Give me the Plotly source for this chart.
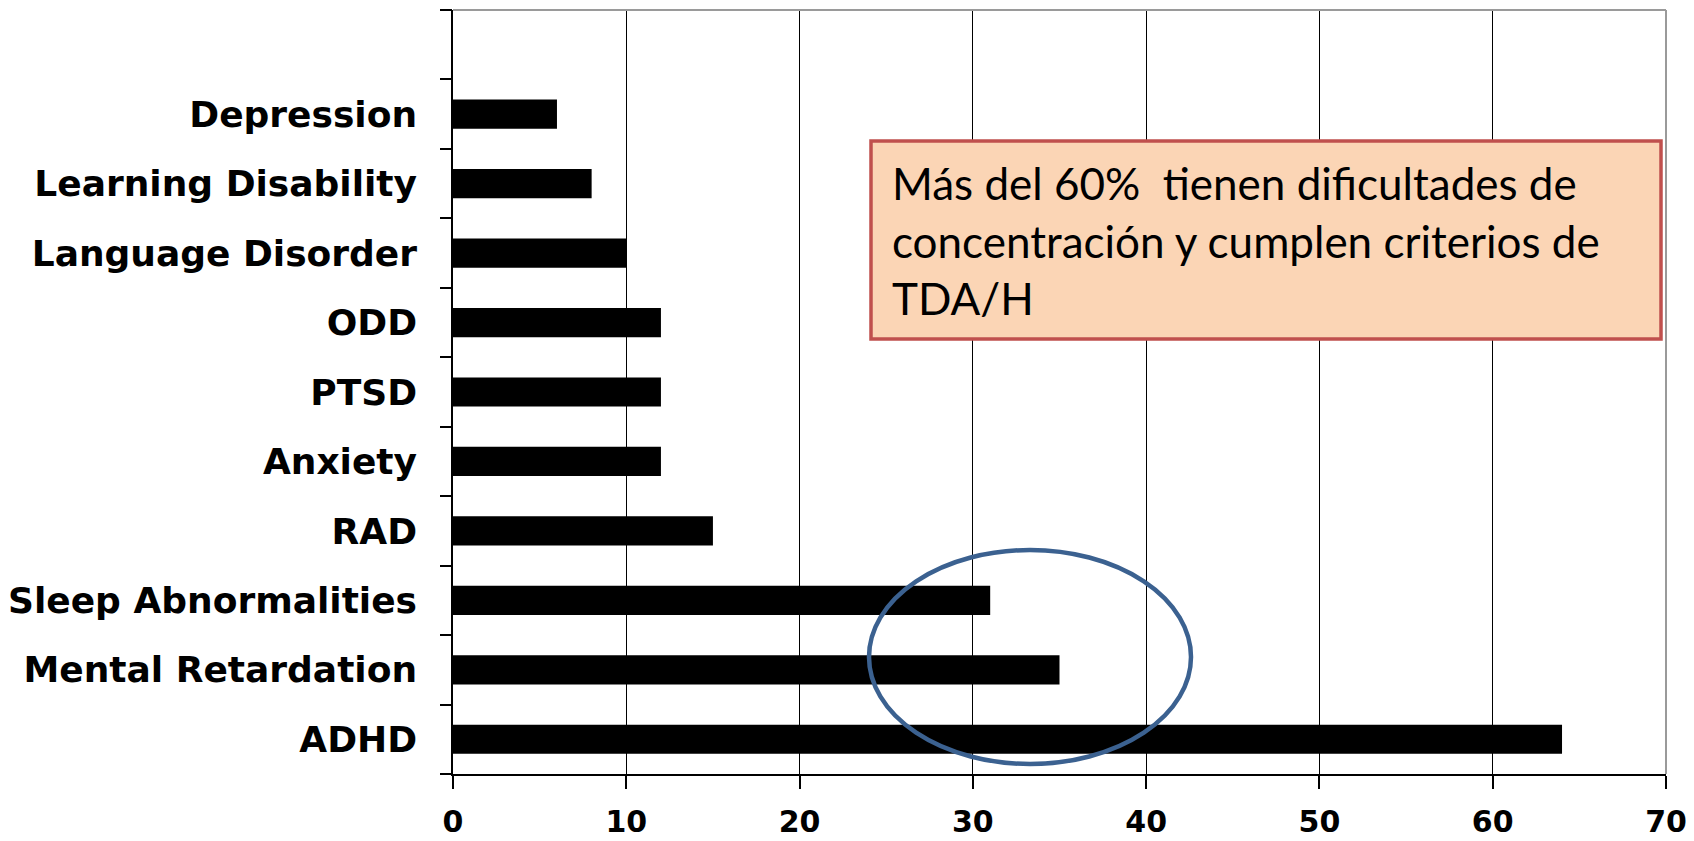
import plotly.graph_objects as go

categories = ["ADHD", "Mental Retardation", "Sleep Abnormalities", "RAD", "Anxiety",
              "PTSD", "ODD", "Language Disorder", "Learning Disability", "Depression"]
values = [64, 35, 31, 15, 12, 12, 12, 10, 8, 6]
x_ticks = [0, 10, 20, 30, 40, 50, 60, 70]
note_lines = ["Más del 60%  tienen dificultades de",
              "concentración y cumplen criterios de",
              "TDA/H"]

positions = list(range(len(categories)))
n_slots = len(categories) + 1  # one empty slot on top

fig = go.Figure()
fig.add_trace(go.Bar(
    x=values, y=positions, orientation="h", width=0.42,
    marker=dict(color="black", line=dict(width=0)),
    showlegend=False, hoverinfo="x+text", text=categories, textposition="none",
))
# invisible trace to activate boundary-tick axis
fig.add_trace(go.Scatter(x=[None], y=[None], yaxis="y2", showlegend=False))

OFF = 8  # page body margin
W, H = 1694 - OFF, 841 - OFF
L, T = 453 - OFF, 10 - OFF
pw, ph = 1213, 764
R, B = W - L - pw, H - T - ph

def px(xp):  # screenshot pixel -> paper
    return (xp - OFF - L) / pw

def py(yp):
    return (OFF + T + ph - yp) / ph

fig.update_layout(
    width=W, height=H,
    margin=dict(l=L, r=R, t=T, b=B, pad=0, autoexpand=False),
    paper_bgcolor="white", plot_bgcolor="white",
    xaxis=dict(
        range=[0, 70], tickvals=x_ticks, ticks="outside", ticklen=13, tickwidth=1.5,
        tickcolor="black", showgrid=True, gridcolor="black", gridwidth=1.3,
        showline=True, linecolor="black", linewidth=1.5, zeroline=False,
        tickfont=dict(family="DejaVu Sans", size=30, color="black", weight="bold"),
        ticklabelstandoff=7, automargin=False,
    ),
    yaxis=dict(
        range=[-0.5, n_slots - 0.5], tickvals=positions, ticktext=categories,
        ticks="", showgrid=False, zeroline=False, showline=True,
        linecolor="black", linewidth=1.5, automargin=False,
        tickfont=dict(family="DejaVu Sans", size=36, color="black", weight="bold"),
        ticklabelstandoff=27,
    ),
    yaxis2=dict(
        range=[-0.5, n_slots - 0.5], overlaying="y", side="left", anchor="x",
        tickvals=[i - 0.5 for i in range(n_slots + 1)], ticks="outside", ticklen=12,
        tickwidth=1.5, tickcolor="black", showticklabels=False, showgrid=False,
        zeroline=False, showline=False, automargin=False,
    ),
    shapes=[
        dict(type="line", xref="paper", yref="paper", x0=0, x1=1, y0=1, y1=1,
             line=dict(color="#9a9a9a", width=2)),
        dict(type="line", xref="paper", yref="paper", x0=1, x1=1, y0=0, y1=1,
             line=dict(color="#9a9a9a", width=2)),
        dict(type="rect", xref="paper", yref="paper",
             x0=px(871), x1=px(1661), y0=py(339), y1=py(141),
             fillcolor="#FBD5B5", line=dict(color="#C0504D", width=3.5)),
        dict(type="circle", xref="paper", yref="paper",
             x0=px(869), x1=px(1191), y0=py(764), y1=py(550),
             line=dict(color="#3B6190", width=4.5), fillcolor="rgba(0,0,0,0)"),
    ],
)

line_centers = [183, 241, 298]
for txt, yc in zip(note_lines, line_centers):
    fig.add_annotation(
        xref="paper", yref="paper", x=px(890), y=py(yc), xanchor="left", yanchor="middle",
        text=txt, showarrow=False, align="left",
        font=dict(family="Lato", size=44, color="black"),
    )

fig.write_html("out.html")
